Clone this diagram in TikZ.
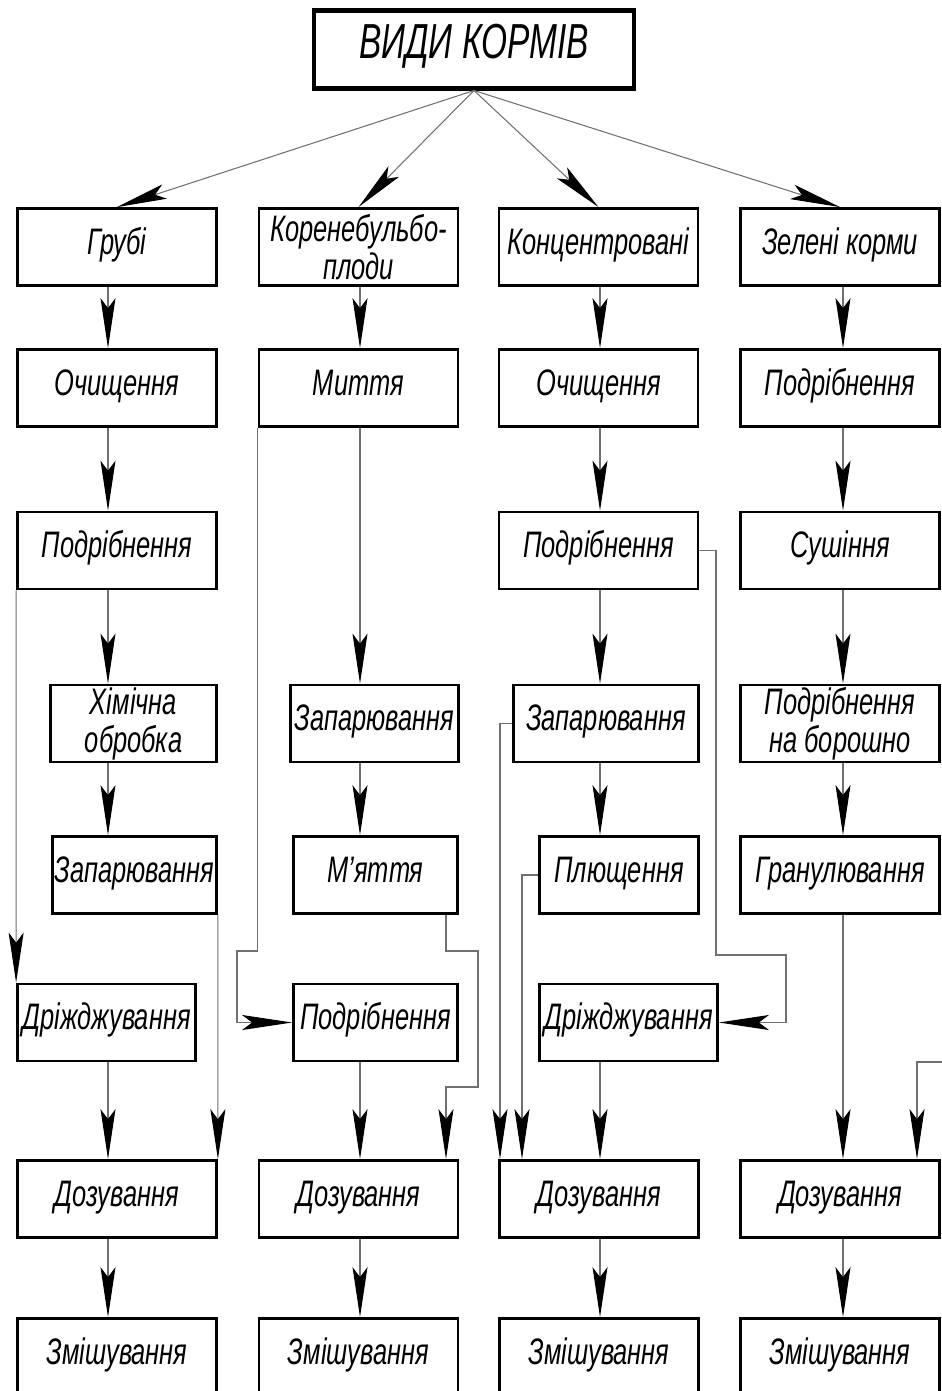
\documentclass[tikz,border=0pt]{standalone}
\usepackage{fontspec}
\setmainfont{Liberation Sans}[FakeStretch=0.69]
\newfontfamily\titlefont{Liberation Sans}[FakeStretch=0.68]
\usepackage{tikz}
\usetikzlibrary{arrows.meta, calc}
\usepackage{xcolor}
\definecolor{linkgray}{HTML}{707070}

\begin{document}
\begin{tikzpicture}[
  x=0.02cm, y=-0.02cm,
  cell/.style={draw, line width=1.6pt, minimum width=3.98cm, minimum height=1.54cm, inner sep=1pt, align=center, font=\fontsize{21}{21.6}\selectfont\itshape},
  box/.style={cell, text height=16.4pt, text depth=8.4pt},
  twobox/.style={cell},
  titlebox/.style={draw, line width=2.3pt, minimum width=6.4cm, minimum height=1.56cm, text height=21.8pt, text depth=11.2pt, font=\titlefont\fontsize{28}{30}\selectfont\itshape},
  arrow/.style={draw=linkgray, line width=0.6pt, -{Stealth[length=1cm, width=0.3cm, inset=0.2cm, color=black]}}
]
\useasboundingbox (0,0) rectangle (941,1391);

% Title
\node[titlebox] (kinds) at (474,49.5) {ВИДИ КОРМІВ};

% Column lines
\coordinate (c1) at (108,0);
\coordinate (c2) at (360,0);
\coordinate (c3) at (600,0);
\coordinate (c4) at (843,0);

% Roughage
\node[box] (rough) at (117,247) {Грубі};
\node[box] (clean1) at (117,388) {Очищення};
\node[box] (chop1) at (117,550.5) {Подрібнення};
\node[twobox, minimum width=3.32cm] (chem) at (133.5,723.5) {Хімічна\\обробка};
\node[box, minimum width=3.28cm] (steam1) at (134.5,875) {Запарювання};
\node[box, minimum width=3.56cm] (yeast1) at (106.5,1022.5) {Дріжджування};
\node[box] (dose1) at (117,1199) {Дозування};
\node[box] (mix1) at (117,1357) {Змішування};

\draw[arrow] (rough.south -| c1) -- (clean1.north -| c1);
\draw[arrow] (clean1.south -| c1) -- (chop1.north -| c1);
\draw[arrow] (chop1.south -| c1) -- (chem.north -| c1);
\draw[arrow] (chem.south -| c1) -- (steam1.north -| c1);
\draw[arrow] (yeast1.south -| c1) -- (dose1.north -| c1);
\draw[arrow] (dose1.south -| c1) -- (mix1.north -| c1);
\draw[arrow] (chop1.south west) -- (yeast1.north west);
\draw[arrow] (steam1.south east) -- (dose1.north east);

% Root crops
\node[twobox] (roots) at (358.5,247) {Коренебульбо-\\плоди};
\node[box] (wash) at (358.5,388) {Миття};
\node[box, minimum width=3.36cm] (steam2) at (374.5,723.5) {Запарювання};
\node[box, minimum width=3.28cm] (mash) at (375.5,875) {М’яття};
\node[box, minimum width=3.28cm] (chop2) at (375.5,1022.5) {Подрібнення};
\node[box] (dose2) at (358.5,1199) {Дозування};
\node[box] (mix2) at (358.5,1357) {Змішування};

\draw[arrow] (roots.south -| c2) -- (wash.north -| c2);
\draw[arrow] (wash.south -| c2) -- (steam2.north -| c2);
\draw[arrow] (steam2.south -| c2) -- (mash.north -| c2);
\draw[arrow] (chop2.south -| c2) -- (dose2.north -| c2);
\draw[arrow] (dose2.south -| c2) -- (mix2.north -| c2);

\coordinate (washbend) at (237,951);
\draw[arrow] (wash.south west) |- (washbend) |- (chop2.west);
\coordinate (mashbend1) at (446,951);
\coordinate (mashbend2) at (478,1087);
\draw[arrow] (mash.south -| mashbend1) -- (mashbend1) -| (mashbend2) -| (dose2.north -| mashbend1);

% Concentrates
\node[box] (conc) at (598.5,247) {Концентровані};
\node[box] (clean3) at (598.5,388) {Очищення};
\node[box] (chop3) at (598.5,550.5) {Подрібнення};
\node[box, minimum width=3.7cm] (steam3) at (606,723.5) {Запарювання};
\node[box, minimum width=3.18cm] (flat) at (619,875) {Плющення};
\node[box, minimum width=3.56cm] (yeast3) at (628.5,1022.5) {Дріжджування};
\node[box] (dose3) at (599,1199) {Дозування};
\node[box] (mix3) at (599,1357) {Змішування};

\draw[arrow] (conc.south -| c3) -- (clean3.north -| c3);
\draw[arrow] (clean3.south -| c3) -- (chop3.north -| c3);
\draw[arrow] (chop3.south -| c3) -- (steam3.north -| c3);
\draw[arrow] (steam3.south -| c3) -- (flat.north -| c3);
\draw[arrow] (yeast3.south -| c3) -- (dose3.north -| c3);
\draw[arrow] (dose3.south -| c3) -- (mix3.north -| c3);

\coordinate (chopbend1) at (716,955);
\coordinate (chopbend2) at (786,1022.5);
\draw[arrow] (chop3.east) -| (chopbend1) -| (chopbend2) -- (yeast3.east);
\coordinate (steambend) at (500,0);
\draw[arrow] (steam3.west) -| (dose3.north -| steambend);
\coordinate (flatbend) at (522,0);
\draw[arrow] (flat.west) -| (dose3.north -| flatbend);

% Green fodder
\node[box] (green) at (840,247) {Зелені корми};
\node[box] (chop4) at (840,388) {Подрібнення};
\node[box] (dry) at (840,550.5) {Сушіння};
\node[twobox] (meal) at (840,723.5) {Подрібнення\\на борошно};
\node[box] (pellet) at (840,875) {Гранулювання};
\node[box] (dose4) at (840,1199) {Дозування};
\node[box] (mix4) at (840,1357) {Змішування};

\draw[arrow] (green.south -| c4) -- (chop4.north -| c4);
\draw[arrow] (chop4.south -| c4) -- (dry.north -| c4);
\draw[arrow] (dry.south -| c4) -- (meal.north -| c4);
\draw[arrow] (meal.south -| c4) -- (pellet.north -| c4);
\draw[arrow] (pellet.south -| c4) -- (dose4.north -| c4);
\draw[arrow] (dose4.south -| c4) -- (mix4.north -| c4);

\coordinate (offpage) at (960,1062);
\coordinate (inbend) at (917,0);
\draw[arrow] (offpage) -| (dose4.north -| inbend);

% From the title
\draw[arrow] (kinds.south) -- (rough.north);
\draw[arrow] (kinds.south) -- (roots.north);
\draw[arrow] (kinds.south) -- (conc.north);
\draw[arrow] (kinds.south) -- (green.north);
\end{tikzpicture}
\end{document}
